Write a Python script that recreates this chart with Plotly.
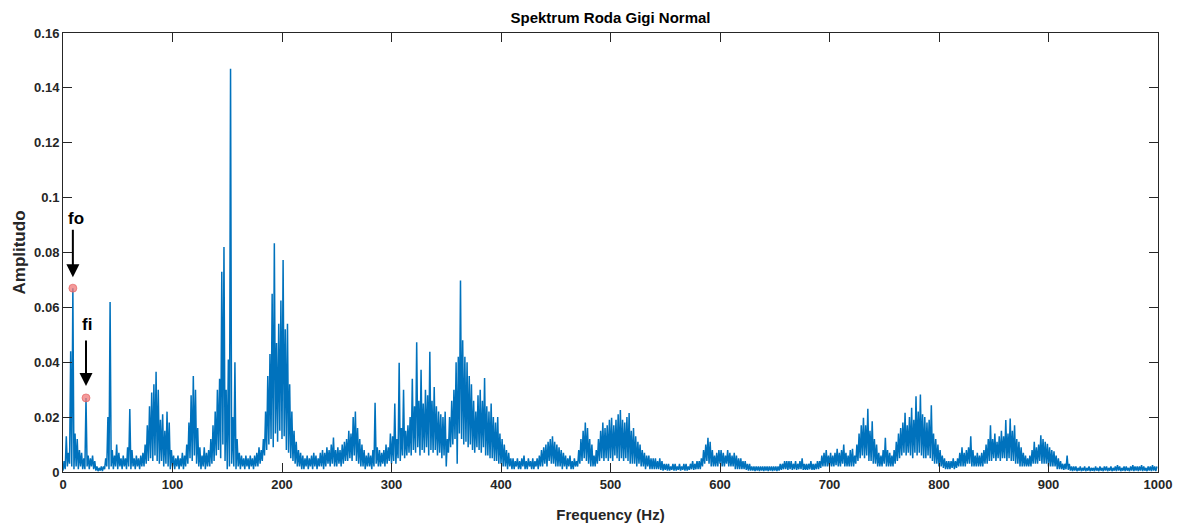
import plotly.graph_objects as go

# ---------------- data ----------------
# Spectrum summarised in 2 Hz bins: the highest and lowest amplitude in each bin
bin_start_hz = list(range(0, 1000, 2))

peak_amp = [
    0.004, 0.013, 0.007, 0.044, 0.067, 0.014, 0.012, 0.008, 0.007, 0.005,   # 0-18
    0.027, 0.006, 0.005, 0.006, 0.004, 0.002, 0.0015, 0.002, 0.002, 0.005,  # 20-38
    0.020, 0.062, 0.008, 0.006, 0.010, 0.007, 0.005, 0.006, 0.005, 0.009,   # 40-58
    0.023, 0.008, 0.005, 0.006, 0.005, 0.006, 0.007, 0.010, 0.017, 0.024,   # 60-78
    0.029, 0.032, 0.0365, 0.030, 0.019, 0.021, 0.015, 0.022, 0.018, 0.008,  # 80-98
    0.006, 0.005, 0.006, 0.005, 0.007, 0.006, 0.010, 0.018, 0.028, 0.035,   # 100-118
    0.030, 0.016, 0.009, 0.006, 0.009, 0.007, 0.008, 0.012, 0.017, 0.022,   # 120-138
    0.030, 0.034, 0.073, 0.082, 0.030, 0.041, 0.147, 0.020, 0.040, 0.012,   # 140-158
    0.007, 0.006, 0.005, 0.006, 0.005, 0.006, 0.005, 0.006, 0.007, 0.009,   # 160-178
    0.008, 0.012, 0.022, 0.035, 0.043, 0.065, 0.0834, 0.047, 0.054, 0.0625, # 180-198
    0.0773, 0.052, 0.054, 0.032, 0.022, 0.015, 0.011, 0.008, 0.007, 0.006,  # 200-218
    0.005, 0.006, 0.005, 0.006, 0.007, 0.006, 0.005, 0.007, 0.008, 0.007,   # 220-238
    0.009, 0.008, 0.010, 0.0126, 0.008, 0.009, 0.008, 0.010, 0.011, 0.012,  # 240-258
    0.015, 0.014, 0.020, 0.022, 0.016, 0.012, 0.010, 0.008, 0.006, 0.007,   # 260-278
    0.006, 0.008, 0.0252, 0.009, 0.008, 0.007, 0.008, 0.010, 0.009, 0.014,  # 280-298
    0.013, 0.025, 0.012, 0.0398, 0.016, 0.030, 0.015, 0.017, 0.020, 0.034,  # 300-318
    0.024, 0.0473, 0.026, 0.0373, 0.025, 0.030, 0.028, 0.0438, 0.026, 0.031,# 320-338
    0.024, 0.022, 0.021, 0.020, 0.022, 0.012, 0.020, 0.026, 0.030, 0.040,   # 340-358
    0.042, 0.0698, 0.048, 0.042, 0.040, 0.035, 0.032, 0.026, 0.022, 0.028,  # 360-378
    0.030, 0.026, 0.0343, 0.024, 0.022, 0.025, 0.020, 0.018, 0.020, 0.014,  # 380-398
    0.012, 0.010, 0.008, 0.007, 0.005, 0.005, 0.004, 0.005, 0.004, 0.005,   # 400-418
    0.006, 0.004, 0.005, 0.004, 0.005, 0.004, 0.005, 0.006, 0.008, 0.009,   # 420-438
    0.010, 0.011, 0.012, 0.013, 0.011, 0.010, 0.009, 0.008, 0.007, 0.006,   # 440-458
    0.005, 0.006, 0.004, 0.005, 0.004, 0.008, 0.012, 0.015, 0.018, 0.016,   # 460-478
    0.012, 0.010, 0.006, 0.008, 0.012, 0.015, 0.018, 0.016, 0.017, 0.019,   # 480-498
    0.0198, 0.017, 0.019, 0.021, 0.0226, 0.019, 0.018, 0.020, 0.0215, 0.015,# 500-518
    0.016, 0.013, 0.011, 0.010, 0.008, 0.007, 0.006, 0.006, 0.005, 0.005,   # 520-538
    0.005, 0.004, 0.005, 0.004, 0.003, 0.003, 0.003, 0.002, 0.003, 0.003,   # 540-558
    0.002, 0.003, 0.002, 0.003, 0.003, 0.002, 0.003, 0.004, 0.003, 0.004,   # 560-578
    0.004, 0.005, 0.008, 0.010, 0.0125, 0.011, 0.008, 0.006, 0.007, 0.008,  # 580-598
    0.008, 0.007, 0.006, 0.008, 0.007, 0.006, 0.007, 0.006, 0.005, 0.005,   # 600-618
    0.004, 0.004, 0.003, 0.003, 0.002, 0.002, 0.002, 0.002, 0.002, 0.002,   # 620-638
    0.002, 0.002, 0.002, 0.002, 0.002, 0.002, 0.002, 0.003, 0.003, 0.004,   # 640-658
    0.004, 0.004, 0.004, 0.003, 0.004, 0.003, 0.004, 0.005, 0.003, 0.003,   # 660-678
    0.003, 0.004, 0.003, 0.003, 0.004, 0.004, 0.006, 0.007, 0.008, 0.006,   # 680-698
    0.007, 0.006, 0.007, 0.0085, 0.007, 0.008, 0.010, 0.007, 0.006, 0.008,  # 700-718
    0.0085, 0.006, 0.010, 0.014, 0.017, 0.0198, 0.017, 0.023, 0.015, 0.0185,# 720-738
    0.012, 0.010, 0.007, 0.006, 0.008, 0.0125, 0.008, 0.007, 0.006, 0.008,  # 740-758
    0.011, 0.014, 0.016, 0.018, 0.0216, 0.017, 0.020, 0.0234, 0.019, 0.0276,# 760-778
    0.022, 0.0282, 0.021, 0.020, 0.018, 0.019, 0.0243, 0.014, 0.012, 0.010, # 780-798
    0.008, 0.006, 0.005, 0.004, 0.004, 0.004, 0.005, 0.004, 0.005, 0.007,   # 800-818
    0.009, 0.007, 0.008, 0.009, 0.013, 0.008, 0.006, 0.007, 0.006, 0.007,   # 820-838
    0.008, 0.010, 0.012, 0.017, 0.012, 0.014, 0.011, 0.013, 0.015, 0.013,   # 840-858
    0.0189, 0.014, 0.0195, 0.015, 0.017, 0.012, 0.011, 0.009, 0.007, 0.006, # 860-878
    0.005, 0.006, 0.008, 0.011, 0.009, 0.010, 0.0134, 0.012, 0.011, 0.0103, # 880-898
    0.009, 0.008, 0.0075, 0.006, 0.005, 0.004, 0.003, 0.003, 0.006, 0.003,  # 900-918
    0.002, 0.002, 0.002, 0.0015, 0.002, 0.0015, 0.002, 0.0015, 0.002, 0.0015,  # 920-938
    0.0015, 0.002, 0.0015, 0.002, 0.0015, 0.002, 0.002, 0.0015, 0.002, 0.0015, # 940-958
    0.002, 0.0025, 0.002, 0.0015, 0.002, 0.002, 0.0015, 0.002, 0.0025, 0.002,  # 960-978
    0.002, 0.002, 0.0025, 0.002, 0.0015, 0.002, 0.002, 0.0025, 0.002, 0.002,   # 980-998
]

trough_amp = [
    0.0005, 0.001, 0.002, 0.003, 0.002, 0.001, 0.002, 0.001, 0.002, 0.001,
    0.001, 0.002, 0.001, 0.002, 0.001, 0.0005, 0.0003, 0.0005, 0.0003, 0.001,
    0.002, 0.001, 0.002, 0.001, 0.002, 0.001, 0.002, 0.001, 0.002, 0.001,
    0.002, 0.001, 0.002, 0.001, 0.002, 0.001, 0.002, 0.002, 0.003, 0.004,
    0.005, 0.004, 0.006, 0.004, 0.003, 0.004, 0.002, 0.003, 0.002, 0.001,
    0.002, 0.001, 0.002, 0.001, 0.002, 0.001, 0.002, 0.003, 0.005, 0.004,
    0.006, 0.003, 0.002, 0.001, 0.002, 0.001, 0.002, 0.002, 0.003, 0.004,
    0.006, 0.008, 0.005, 0.010, 0.004, 0.001, 0.002, 0.003, 0.002, 0.001,
    0.002, 0.001, 0.002, 0.001, 0.002, 0.001, 0.002, 0.001, 0.002, 0.002,
    0.003, 0.004, 0.006, 0.008, 0.010, 0.012, 0.009, 0.014, 0.011, 0.015,
    0.012, 0.013, 0.008, 0.007, 0.005, 0.004, 0.003, 0.002, 0.002, 0.001,
    0.001, 0.002, 0.001, 0.002, 0.001, 0.002, 0.001, 0.002, 0.002, 0.001,
    0.002, 0.003, 0.002, 0.003, 0.002, 0.002, 0.003, 0.002, 0.003, 0.004,
    0.004, 0.005, 0.004, 0.006, 0.004, 0.003, 0.002, 0.002, 0.001, 0.002,
    0.002, 0.001, 0.002, 0.003, 0.002, 0.002, 0.003, 0.002, 0.003, 0.004,
    0.003, 0.004, 0.003, 0.005, 0.004, 0.006, 0.005, 0.006, 0.007, 0.006,
    0.008, 0.007, 0.009, 0.006, 0.008, 0.007, 0.009, 0.006, 0.008, 0.007,
    0.008, 0.006, 0.007, 0.005, 0.006, 0.002, 0.007, 0.009, 0.010, 0.012,
    0.003, 0.014, 0.012, 0.010, 0.011, 0.009, 0.010, 0.008, 0.007, 0.009,
    0.008, 0.007, 0.009, 0.006, 0.006, 0.005, 0.005, 0.004, 0.004, 0.003,
    0.003, 0.002, 0.002, 0.001, 0.002, 0.001, 0.001, 0.002, 0.001, 0.001,
    0.002, 0.001, 0.001, 0.002, 0.001, 0.001, 0.002, 0.001, 0.002, 0.002,
    0.003, 0.002, 0.004, 0.003, 0.003, 0.002, 0.002, 0.002, 0.001, 0.002,
    0.001, 0.002, 0.001, 0.001, 0.002, 0.002, 0.003, 0.004, 0.005, 0.004,
    0.003, 0.002, 0.002, 0.002, 0.003, 0.004, 0.005, 0.004, 0.005, 0.004,
    0.005, 0.004, 0.006, 0.005, 0.004, 0.005, 0.004, 0.005, 0.004, 0.003,
    0.003, 0.003, 0.002, 0.003, 0.002, 0.002, 0.001, 0.002, 0.001, 0.001,
    0.001, 0.001, 0.001, 0.0008, 0.0005, 0.0008, 0.0005, 0.0005, 0.0008, 0.0005,
    0.0005, 0.0008, 0.0005, 0.0008, 0.0005, 0.0005, 0.0008, 0.001, 0.0008, 0.001,
    0.001, 0.001, 0.002, 0.003, 0.004, 0.003, 0.002, 0.002, 0.002, 0.002,
    0.003, 0.002, 0.002, 0.003, 0.002, 0.002, 0.002, 0.001, 0.001, 0.001,
    0.001, 0.001, 0.0008, 0.0005, 0.0005, 0.0005, 0.0003, 0.0005, 0.0003, 0.0005,
    0.0003, 0.0005, 0.0003, 0.0005, 0.0003, 0.0005, 0.0003, 0.0005, 0.0008, 0.001,
    0.001, 0.0008, 0.001, 0.0008, 0.001, 0.0008, 0.001, 0.001, 0.0008, 0.0008,
    0.0008, 0.001, 0.0008, 0.0008, 0.001, 0.001, 0.0015, 0.002, 0.002, 0.002,
    0.002, 0.002, 0.002, 0.0025, 0.002, 0.002, 0.003, 0.002, 0.002, 0.002,
    0.002, 0.002, 0.003, 0.004, 0.005, 0.006, 0.005, 0.006, 0.004, 0.004,
    0.003, 0.003, 0.002, 0.002, 0.002, 0.003, 0.002, 0.002, 0.002, 0.002,
    0.003, 0.004, 0.005, 0.006, 0.007, 0.006, 0.007, 0.006, 0.005, 0.007,
    0.006, 0.007, 0.006, 0.005, 0.005, 0.006, 0.005, 0.004, 0.003, 0.003,
    0.002, 0.002, 0.0015, 0.001, 0.001, 0.001, 0.0015, 0.001, 0.0015, 0.002,
    0.002, 0.002, 0.002, 0.003, 0.003, 0.002, 0.002, 0.002, 0.002, 0.002,
    0.002, 0.003, 0.003, 0.004, 0.004, 0.005, 0.004, 0.005, 0.004, 0.005,
    0.005, 0.004, 0.005, 0.004, 0.004, 0.003, 0.003, 0.002, 0.002, 0.002,
    0.002, 0.002, 0.002, 0.003, 0.003, 0.003, 0.004, 0.003, 0.003, 0.003,
    0.002, 0.002, 0.002, 0.002, 0.001, 0.001, 0.001, 0.0008, 0.001, 0.0008,
    0.0005, 0.0003, 0.0005, 0.0003, 0.0005, 0.0003, 0.0005, 0.0003, 0.0005, 0.0003,
    0.0005, 0.0003, 0.0005, 0.0003, 0.0005, 0.0003, 0.0005, 0.0003, 0.0005, 0.0003,
    0.0005, 0.0003, 0.0005, 0.0003, 0.0005, 0.0003, 0.0005, 0.0003, 0.0005, 0.0003,
    0.0005, 0.0003, 0.0005, 0.0003, 0.0005, 0.0003, 0.0005, 0.0003, 0.0005, 0.0003,
]

# Marked characteristic frequencies
fo_freq = [9.0]
fo_amp = [0.067]
fi_freq = [21.0]
fi_amp = [0.027]

x_tick_vals = [0, 100, 200, 300, 400, 500, 600, 700, 800, 900, 1000]
x_tick_text = ["0", "100", "200", "300", "400", "500", "600", "700", "800", "900", "1000"]
y_tick_vals = [0, 0.02, 0.04, 0.06, 0.08, 0.1, 0.12, 0.14, 0.16]
y_tick_text = ["0", "0.02", "0.04", "0.06", "0.08", "0.1", "0.12", "0.14", "0.16"]

assert len(peak_amp) == len(bin_start_hz) == len(trough_amp)

# ---------------- build the line (low then high value in each bin) ----------------
freq, amp = [], []
for f, lo, hi in zip(bin_start_hz, trough_amp, peak_amp):
    freq += [f, f + 1]
    amp += [lo, hi]

AXIS_COLOR = "#262626"
FONT = "Liberation Sans, Arial, sans-serif"

fig = go.Figure()
fig.add_trace(go.Scatter(
    x=freq, y=amp, mode="lines",
    line=dict(color="#0072BD", width=1.5),
    hoverinfo="skip", showlegend=False,
))
fig.add_trace(go.Scatter(
    x=fo_freq + fi_freq, y=fo_amp + fi_amp, mode="markers",
    marker=dict(color="rgba(240,120,120,0.75)", size=8,
                line=dict(color="rgba(225,90,90,0.6)", width=1)),
    hoverinfo="skip", showlegend=False,
))

# arrows + labels
for name, fx, fy, tail, stand, dx, dy in [
    ("fo", fo_freq[0], fo_amp[0], -60, 11, 3, 70),
    ("fi", fi_freq[0], fi_amp[0], -59, 12, 1, 73),
]:
    fig.add_annotation(x=fx, y=fy, xref="x", yref="y", text="", showarrow=True,
                       ax=0, ay=tail, axref="pixel", ayref="pixel",
                       arrowhead=2, arrowsize=1.3, arrowwidth=2,
                       arrowcolor="black", standoff=stand)
    fig.add_annotation(x=fx, y=fy, xref="x", yref="y", text=name,
                       showarrow=False, xshift=dx, yshift=dy,
                       font=dict(family=FONT, size=17, color="black", weight="bold"))

axis_common = dict(
    showline=True, linecolor=AXIS_COLOR, linewidth=1, mirror="ticks",
    ticks="inside", ticklen=9, tickcolor=AXIS_COLOR, tickwidth=1,
    showgrid=False, zeroline=False, automargin=False,
    tickfont=dict(family=FONT, size=13, color=AXIS_COLOR, weight="bold"),
)

fig.update_xaxes(
    range=[0, 1000], tickvals=x_tick_vals, ticktext=x_tick_text,
    title=dict(text="Frequency (Hz)", standoff=18,
               font=dict(family=FONT, size=15, color=AXIS_COLOR, weight="bold")),
    **axis_common,
)
fig.update_yaxes(
    range=[0, 0.16], tickvals=y_tick_vals, ticktext=y_tick_text,
    title=dict(text="Amplitudo", standoff=4,
               font=dict(family=FONT, size=17, color=AXIS_COLOR, weight="bold")),
    **axis_common,
)

fig.update_layout(
    width=1177, height=529,
    margin=dict(l=63, r=19, t=33, b=57),
    paper_bgcolor="white", plot_bgcolor="white",
    title=dict(text="Spektrum Roda Gigi Normal", x=0.5, xref="paper",
               y=1 - 18 / 529, yref="container", xanchor="center", yanchor="middle",
               font=dict(family=FONT, size=15, color="black", weight="bold")),
    hovermode=False,
)

fig.write_html("out.html")
